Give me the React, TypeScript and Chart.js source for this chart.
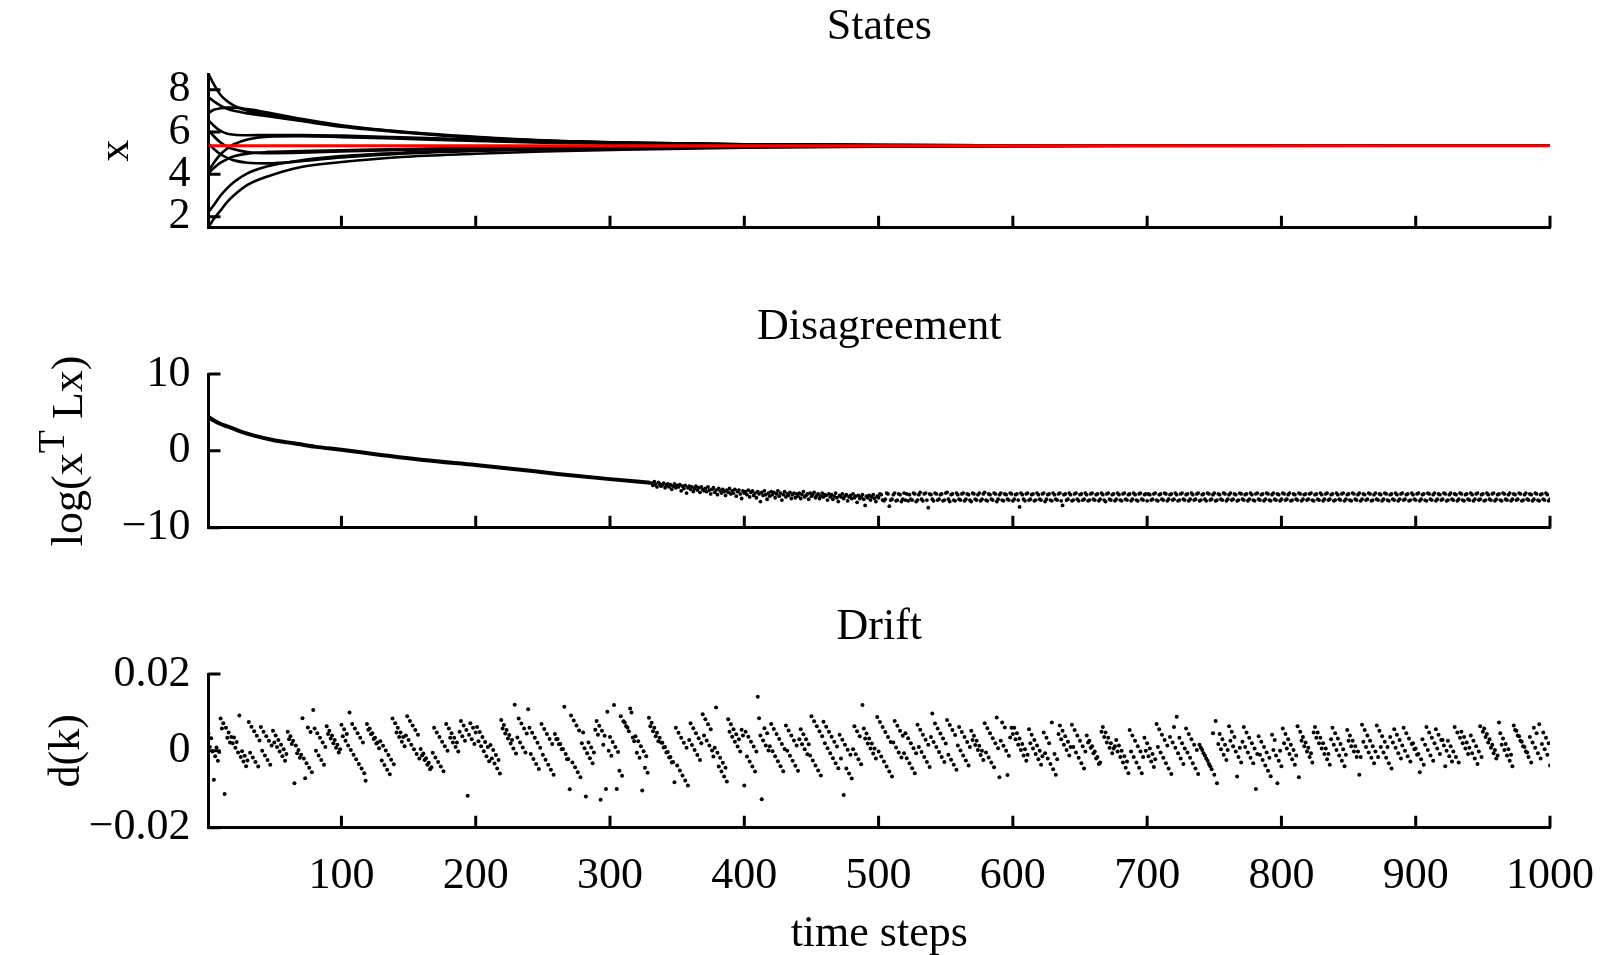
import React, { useEffect, useRef } from "react";
import { Chart, registerables } from "chart.js";

Chart.register(...registerables);

const FONT = "'Liberation Serif', 'Times New Roman', serif";

// ---------- shared x axis ----------
const xTickValues = [100, 200, 300, 400, 500, 600, 700, 800, 900, 1000];
const xTitle = "time steps";

// ---------- States ----------
const stateSteps = [1, 5, 10, 15, 20, 30, 45, 70, 100, 145, 200, 250, 310, 400, 500, 700, 1000];
const stateA = [8.74, 8.25, 7.75, 7.45, 7.25, 7.0, 6.82, 6.55, 6.28, 6.0, 5.75, 5.6, 5.5, 5.42, 5.38, 5.36, 5.35];
const stateB = [7.64, 7.45, 7.25, 7.1, 7.0, 6.88, 6.75, 6.52, 6.25, 5.98, 5.73, 5.59, 5.49, 5.42, 5.38, 5.36, 5.35];
const stateC = [6.9, 7.05, 7.12, 7.15, 7.15, 7.08, 6.92, 6.62, 6.32, 6.02, 5.77, 5.61, 5.5, 5.42, 5.38, 5.36, 5.35];
const stateD = [6.55, 6.3, 6.05, 5.92, 5.87, 5.85, 5.86, 5.86, 5.83, 5.75, 5.64, 5.56, 5.48, 5.42, 5.38, 5.36, 5.35];
const stateE = [6.1, 5.8, 5.5, 5.3, 5.18, 5.05, 5.0, 5.02, 5.08, 5.15, 5.22, 5.27, 5.3, 5.33, 5.34, 5.35, 5.35];
const stateF = [5.45, 5.2, 4.95, 4.78, 4.66, 4.55, 4.52, 4.62, 4.8, 4.98, 5.1, 5.18, 5.25, 5.3, 5.33, 5.35, 5.35];
const stateG = [4.15, 4.55, 4.95, 5.22, 5.42, 5.65, 5.78, 5.8, 5.76, 5.68, 5.58, 5.5, 5.44, 5.39, 5.37, 5.36, 5.35];
const stateH = [4.05, 4.3, 4.55, 4.72, 4.85, 4.98, 5.06, 5.1, 5.14, 5.2, 5.25, 5.28, 5.31, 5.33, 5.34, 5.35, 5.35];
const stateI = [2.23, 2.55, 3.0, 3.35, 3.64, 4.05, 4.38, 4.66, 4.86, 5.02, 5.13, 5.2, 5.26, 5.31, 5.33, 5.35, 5.35];
const stateJ = [1.5, 1.9, 2.3, 2.7, 3.01, 3.5, 3.9, 4.35, 4.58, 4.82, 4.97, 5.08, 5.17, 5.26, 5.31, 5.34, 5.35];
const stateSeries = [stateA, stateB, stateC, stateD, stateE, stateF, stateG, stateH, stateI, stateJ];
const stateMean = 5.35;
const stateYMin = 1.48;
const stateYMax = 8.74;
const stateYTicks = [2, 4, 6, 8];

// ---------- Disagreement ----------
const disagreeTrendSteps = [1, 5, 10, 15, 20, 28, 35, 48, 60, 68, 80, 100, 128, 161, 200, 228, 261, 300, 330];
const disagreeTrendValues = [4.4, 3.95, 3.5, 3.17, 2.85, 2.35, 1.98, 1.45, 1.1, 0.88, 0.55, 0.13, -0.5, -1.2, -1.85, -2.35, -3.0, -3.68, -4.15];
const disagreeNoiseStart = 331;
// log(x^T L x) in tenths, steps 331..1000
const disagreeNoiseTenths = [
  -42,-45,-40,-44,-47,-41,-43,-46,-44,-42,-48,-45,-43,-47,-44,-50,-46,-43,-48,-45,
  -47,-44,-52,-46,-49,-45,-55,-48,-46,-50,-47,-53,-49,-46,-51,-48,-54,-47,-50,-52,
  -49,-53,-47,-51,-56,-50,-48,-54,-51,-57,-49,-52,-55,-50,-53,-58,-51,-54,-49,-56,
  -52,-55,-50,-59,-53,-51,-56,-62,-52,-55,
  -53,-57,-51,-60,-54,-52,-58,-55,-61,-53,-56,-66,-54,-58,-52,-57,-63,-55,-59,-53,
  -57,-54,-61,-56,-52,-59,-55,-64,-57,-53,-60,-56,-58,-54,-62,-57,-55,-61,-56,-59,
  -55,-62,-57,-53,-60,-58,-56,-63,-55,-59,-57,-54,-61,-58,-56,-62,-59,-55,-60,-57,
  -58,-64,-56,-60,-57,-63,-59,-55,-61,-66,-58,-60,-56,-62,-59,-57,-65,-60,-58,-62,
  -56,-61,-59,-67,-58,-62,-60,-57,-63,-71,-59,-61,-58,-64,-60,-57,-62,-66,-59,-61,
  -56,-57,-64,-65,-63,-55,-56,-72,-64,-63,-57,-55,-65,-64,-56,-57,-66,-63,-55,-64,
  -56,-65,-57,-63,-64,-55,-56,-66,-64,-57,-54,-63,-65,-56,-55,-64,-74,-56,-57,-63,
  -65,-55,-56,-64,-63,-57,-56,-65,-64,-55,-54,-63,-66,-57,-56,-64,-65,-55,-57,-63,
  -64,-56,-55,-65,-63,-56,-57,-64,-66,-55,-56,-63,-64,-57,-55,-65,-63,-56,-54,-64,
  -65,-56,-57,-63,-64,-55,-56,-66,-63,-57,-55,-64,-65,-56,-57,-63,-64,-55,-56,-65,
  -63,-57,-56,-64,-73,-55,-57,-63,-65,-56,-55,-64,-63,-57,-56,-65,-64,-55,-57,-63,
  -64,-56,-55,-66,-63,-57,-56,-64,-65,-55,-57,-63,-64,-56,-55,-65,-71,-57,-56,-64,
  -63,-55,-57,-65,-64,-56,-55,-63,-65,-57,-56,-64,-63,-55,-57,-65,-64,-56,-55,-63,
  -64,-57,-56,-65,-63,-55,-57,-64,-66,-56,-55,-63,-64,-57,-56,-65,-63,-55,-57,-64,
  -65,-56,-55,-63,-64,-57,-56,-65,-63,-55,-57,-64,-65,-56,-55,-63,-64,-57,-56,-65,
  -56,-57,-64,-63,-56,-55,-64,-65,-57,-56,-63,-64,-55,-56,-65,-63,-57,-56,-64,-63,
  -55,-57,-65,-64,-56,-55,-63,-64,-57,-56,-65,-63,-55,-57,-64,-63,-56,-55,-65,-64,
  -57,-56,-63,-65,-55,-56,-64,-63,-57,-55,-65,-64,-56,-57,-63,-64,-55,-56,-65,-63,
  -57,-55,-64,-63,-56,-57,-65,-64,-55,-56,-63,-64,-57,-56,-65,-63,-55,-57,-64,-65,
  -56,-55,-63,-64,-57,-56,-65,-63,-55,-56,-64,-65,-57,-55,-63,-64,-56,-57,-65,-63,
  -55,-56,-64,-63,-57,-55,-65,-64,-56,-57,-63,-64,-55,-56,-65,-63,-57,-56,-64,-63,
  -56,-55,-64,-65,-57,-56,-63,-64,-55,-57,-65,-63,-56,-55,-64,-63,-57,-56,-65,-64,
  -55,-57,-63,-64,-56,-55,-65,-63,-57,-56,-64,-65,-55,-56,-63,-64,-57,-55,-65,-63,
  -56,-57,-64,-63,-55,-56,-65,-64,-57,-55,-63,-64,-56,-57,-65,-63,-55,-56,-64,-65,
  -57,-56,-63,-64,-55,-57,-65,-63,-56,-55,-64,-63,-57,-56,-65,-64,-55,-57,-63,-64,
  -56,-55,-65,-63,-57,-56,-64,-65,-55,-56,-63,-64,-57,-55,-65,-63,-56,-57,-64,-63,
  -55,-56,-65,-64,-57,-55,-63,-64,-56,-57,-65,-63,-55,-56,-64,-65,-57,-56,-63,-64,
  -55,-57,-65,-63,-56,-55,-64,-63,-57,-56,-65,-64,-55,-57,-63,-64,-56,-55,-65,-63,
  -57,-56,-64,-65,-55,-56,-63,-64,-57,-55,-65,-63,-56,-57,-64,-63,-55,-56,-65,-64,
  -57,-55,-63,-64,-56,-57,-65,-63,-55,-56,-64,-65,-57,-56,-63,-64,-55,-57,-65,-63,
];
const disagreeYTicks = [-10, 0, 10];

// ---------- Drift ----------
// d(k) x 10^4, steps 1..1000
const driftE4 = [
  45,10,33,-2,-75,-14,9,-26,-3,84,58,72,-112,60,34,48,22,36,20,35,
  8,23,-4,92,-16,-1,-28,-13,-40,-25,75,-5,63,-17,51,-29,39,-41,27,62,
  0,50,-12,38,-24,26,-36,14,52,22,40,10,28,-2,16,-14,4,-26,-8,50,
  30,38,18,26,-84,14,-6,2,-18,-10,85,-20,-71,-32,61,-44,49,-56,106,58,
  0,46,-12,34,-24,22,-36,10,64,44,52,32,40,20,28,8,16,-4,4,68,
  38,56,26,44,14,100,2,70,-10,58,-22,46,-34,34,-46,22,-58,-78,70,55,
  58,43,46,31,34,19,22,7,25,-25,13,-37,1,-49,-11,-61,-23,84,-35,72,
  48,60,36,48,24,36,12,40,90,28,78,16,66,4,54,-8,42,-20,5,-12,
  -7,-24,-19,-36,-31,-48,-43,-5,60,-17,48,-29,36,-41,24,-53,12,70,0,58,
  34,46,22,34,10,22,-2,50,78,38,66,26,54,-117,42,72,30,60,18,48,
  62,25,49,12,36,-1,23,-14,10,-27,15,-20,2,-33,-11,-46,-24,-59,80,58,
  67,45,54,32,41,19,28,6,120,-7,35,84,22,71,9,58,-4,45,108,60,
  -8,47,-21,34,-34,21,-47,8,70,-10,57,-23,44,-36,31,-49,18,-62,44,30,
  31,17,18,4,5,115,-8,-22,-21,-100,92,-30,79,-43,66,-56,53,-69,20,48,
  7,-119,-6,22,-19,9,-32,-4,55,78,42,65,-127,52,16,39,-99,102,0,36,
  -13,23,119,10,-99,-3,-52,90,-65,77,74,64,61,51,110,100,35,25,38,-5,
  25,-18,12,-103,-1,-44,-14,-57,86,64,73,51,60,38,47,25,34,22,21,9,
  10,-4,-3,-17,-16,-30,-29,-82,60,-38,47,-51,34,-64,21,-77,8,-90,28,72,
  15,59,2,46,-11,33,-24,20,95,40,82,27,69,14,56,1,-15,8,113,-5,
  -41,-18,-54,-31,-67,-44,-80,82,50,69,37,56,24,43,11,30,-2,55,40,-90,
  50,-15,37,-28,24,-41,11,-54,-2,141,85,40,-126,27,59,14,46,1,12,70,
  -1,57,-14,44,-27,31,-40,18,-53,5,66,0,53,-13,40,-26,27,-39,14,-52,
  30,56,17,43,4,30,-9,17,-12,90,-25,77,-38,64,-51,51,-64,38,76,20,
  63,7,50,-6,37,-19,24,-32,11,-45,42,-20,29,-115,16,-46,3,-59,-10,-72,
  4,64,-9,51,-22,38,-35,119,58,32,45,19,32,6,19,-7,6,-20,88,-2,
  75,-15,62,-28,49,-41,36,-54,23,-67,22,78,9,65,-4,52,-17,39,-6,46,
  -19,33,-32,20,-45,7,-58,-6,68,10,55,-3,42,-16,29,-29,16,-42,36,97,
  23,71,10,58,-3,45,-16,32,-29,19,80,-10,67,-23,54,-36,41,-49,14,62,
  1,49,-12,36,-25,23,-38,10,52,28,39,15,26,2,13,-11,0,-24,72,-4,
  59,-17,46,-30,33,-43,20,87,7,-69,26,74,13,61,0,-63,-13,35,60,44,
  60,30,46,16,32,2,18,-12,4,-26,-10,56,20,42,6,28,-8,14,-22,0,
  -36,-14,48,-6,34,-20,20,-34,74,-48,-8,-62,-22,44,66,30,52,16,38,2,
  24,-12,10,68,10,54,-4,40,-18,26,-32,12,-46,-2,40,22,26,8,12,-6,
  -2,-20,-16,-34,-30,50,62,36,48,22,34,8,20,-6,6,12,28,-2,14,-16,
  0,-30,-14,-44,-28,-58,54,-2,40,-16,26,-30,12,-44,-2,-58,-16,34,0,20,
  -14,6,-28,-8,-42,-22,70,10,56,-4,42,-18,28,-32,14,-46,36,-60,22,62,
  8,89,-6,34,-20,20,-34,6,58,-4,44,-18,30,-32,16,-46,2,-60,16,8,
  2,-6,-12,-20,-26,-34,-40,-48,46,-62,78,-84,18,44,4,30,-10,16,-24,2,
  64,26,50,12,36,-2,-67,-16,8,-30,24,62,10,48,-4,34,-18,20,-32,6,
  -99,-8,38,-10,24,-24,10,-38,-4,-52,-18,-66,42,2,28,-12,-84,-26,0,-40,
  58,20,44,6,30,-8,16,-22,2,-36,-12,64,-69,50,26,36,12,22,-2,8,
  -16,-6,-30,48,62,34,48,20,34,6,20,-8,6,-22,-8,-36,30,60,16,46,
  2,32,-12,18,-26,4,-40,-10,54,26,40,12,26,-2,12,-16,-2,-62,-16,68,
  24,54,10,40,-4,26,-18,12,-32,-2,66,-16,52,10,38,-4,24,-18,10,-32,
  36,-46,22,56,8,42,-6,28,-20,14,60,0,46,-14,32,-28,18,20,4,6,
  -10,-8,-56,-22,30,-36,16,62,2,48,-12,34,-26,20,56,6,42,-8,28,28,
  14,-40,0,26,-14,12,-28,-2,62,-16,48,-30,34,50,20,36,6,22,-8,8,
  40,-6,26,-20,12,-34,-2,64,-16,50,58,36,44,22,30,8,16,-6,2,-20,
  -12,74,46,16,32,2,18,-12,4,-26,-10,-40,66,54,52,40,38,26,24,12,
  10,-2,-4,-16,36,-30,22,60,8,46,-6,69,-20,18,48,4,34,-10,20,-38,
];
const driftYTicks = [-0.02, 0, 0.02];

// ---------- helpers ----------
const pts = (xs: number[], ys: number[]) => xs.map((x, i) => ({ x, y: ys[i] }));
const minus = "\u2212";

const inwardTicks = {
  id: "inwardTicks",
  afterDatasetsDraw(chart: any) {
    const { ctx, chartArea: a, scales } = chart;
    ctx.save();
    ctx.strokeStyle = "#000";
    ctx.lineWidth = 3;
    ctx.beginPath();
    scales.x.ticks.forEach((t: any) => {
      const px = scales.x.getPixelForValue(t.value);
      ctx.moveTo(px, a.bottom);
      ctx.lineTo(px, a.bottom - 12);
    });
    scales.y.ticks.forEach((t: any) => {
      const py = scales.y.getPixelForValue(t.value);
      ctx.moveTo(a.left, py);
      ctx.lineTo(a.left + 12, py);
    });
    ctx.stroke();
    ctx.restore();
  },
};

const yTitlePlugin = {
  id: "yTitle",
  afterDraw(chart: any, _args: any, opts: any) {
    const parts = opts && opts.parts;
    if (!parts) return;
    const { ctx, chartArea: a } = chart;
    const mainFont = `44px ${FONT}`;
    const supFont = `38px ${FONT}`;
    ctx.save();
    let total = 0;
    const widths = parts.map((p: any) => {
      ctx.font = p.sup ? supFont : mainFont;
      const w = ctx.measureText(p.text).width;
      total += w;
      return w;
    });
    ctx.translate(a.left - opts.offset, (a.top + a.bottom) / 2);
    ctx.rotate(-Math.PI / 2);
    ctx.textBaseline = "alphabetic";
    ctx.textAlign = "left";
    ctx.fillStyle = "#000";
    let x = -total / 2;
    parts.forEach((p: any, i: number) => {
      ctx.font = p.sup ? supFont : mainFont;
      ctx.fillText(p.text, x, p.sup ? -18 : 0);
      x += widths[i];
    });
    ctx.restore();
  },
};

function panelConfig(o: any): any {
  return {
    type: "line",
    data: { datasets: o.datasets },
    plugins: [inwardTicks, yTitlePlugin],
    options: {
      responsive: false,
      animation: false,
      devicePixelRatio: 1,
      events: [],
      layout: { padding: { left: 0, right: 53, top: 0, bottom: o.bottomAxis ? 0 : 72.3 } },
      plugins: {
        legend: { display: false },
        tooltip: { enabled: false },
        title: {
          display: true,
          fullSize: false,
          text: o.title,
          color: "#000",
          font: { family: FONT, size: 44, weight: "normal" },
          padding: { top: 1.5, bottom: 19.7 },
        },
        yTitle: { parts: o.yTitleParts, offset: o.yTitleOffset },
      },
      scales: {
        x: {
          type: "linear",
          position: "bottom",
          min: 1,
          max: 1000,
          grid: { display: false, drawTicks: false, tickLength: 0 },
          border: { display: true, color: "#000", width: 3 },
          afterBuildTicks: (s: any) => {
            s.ticks = xTickValues.map((v) => ({ value: v }));
          },
          afterFit: (s: any) => {
            s.height = o.bottomAxis ? 133.3 : 0;
          },
          ticks: {
            display: !!o.bottomAxis,
            autoSkip: false,
            maxRotation: 0,
            minRotation: 0,
            padding: 6,
            color: "#000",
            font: { family: FONT, size: 44, lineHeight: 1.92 },
            callback: (v: any) => String(v),
          },
          title: {
            display: !!o.bottomAxis,
            text: xTitle,
            color: "#000",
            font: { family: FONT, size: 44 },
            padding: { top: 0, bottom: 0 },
          },
        },
        y: {
          type: "linear",
          position: "left",
          min: o.yMin,
          max: o.yMax,
          grid: { display: false, drawTicks: false, tickLength: 0 },
          border: { display: true, color: "#000", width: 3 },
          afterBuildTicks: (s: any) => {
            s.ticks = o.yTicks.map((v: number) => ({ value: v }));
          },
          afterFit: (s: any) => {
            s.width = 208.5;
          },
          ticks: {
            autoSkip: false,
            padding: 18,
            color: "#000",
            font: { family: FONT, size: 44 },
            callback: o.yFmt,
          },
        },
      },
    },
  };
}

export default function App() {
  const r1 = useRef<HTMLCanvasElement>(null);
  const r2 = useRef<HTMLCanvasElement>(null);
  const r3 = useRef<HTMLCanvasElement>(null);

  useEffect(() => {
    const stateDatasets: any[] = [
      {
        data: [{ x: 1, y: stateMean }, { x: 1000, y: stateMean }],
        borderColor: "rgb(255,0,0)",
        borderWidth: 3,
        pointRadius: 0,
      },
      ...stateSeries.map((s) => ({
        data: pts(stateSteps, s),
        borderColor: "#000",
        borderWidth: 2.6,
        pointRadius: 0,
        cubicInterpolationMode: "monotone",
      })),
    ];

    const noiseData = disagreeNoiseTenths.map((v, i) => ({ x: disagreeNoiseStart + i, y: v / 10 }));
    const disagreeDatasets: any[] = [
      {
        data: pts(disagreeTrendSteps, disagreeTrendValues),
        borderColor: "#000",
        borderWidth: 4,
        pointRadius: 0,
        cubicInterpolationMode: "monotone",
      },
      {
        data: noiseData,
        showLine: false,
        pointRadius: 1.9,
        pointBorderWidth: 0,
        pointBackgroundColor: "#000",
        borderColor: "#000",
      },
    ];

    const driftData = driftE4.map((v, i) => ({ x: i + 1, y: v / 10000 }));
    const driftDatasets: any[] = [
      {
        data: driftData,
        showLine: false,
        pointRadius: 2,
        pointBorderWidth: 0,
        pointBackgroundColor: "#000",
        borderColor: "#000",
      },
    ];

    const charts = [
      new Chart(
        r1.current as HTMLCanvasElement,
        panelConfig({
          title: "States",
          datasets: stateDatasets,
          yMin: stateYMin,
          yMax: stateYMax,
          yTicks: stateYTicks,
          yFmt: (v: any) => String(v),
          yTitleParts: [{ text: "x" }],
          yTitleOffset: 80.5,
          bottomAxis: false,
        })
      ),
      new Chart(
        r2.current as HTMLCanvasElement,
        panelConfig({
          title: "Disagreement",
          datasets: disagreeDatasets,
          yMin: -10,
          yMax: 10,
          yTicks: disagreeYTicks,
          yFmt: (v: any) => (v < 0 ? minus + Math.abs(v) : String(v)),
          yTitleParts: [{ text: "log(x" }, { text: "T", sup: true }, { text: " Lx)" }],
          yTitleOffset: 127,
          bottomAxis: false,
        })
      ),
      new Chart(
        r3.current as HTMLCanvasElement,
        panelConfig({
          title: "Drift",
          datasets: driftDatasets,
          yMin: -0.02,
          yMax: 0.02,
          yTicks: driftYTicks,
          yFmt: (v: any) => (v === 0 ? "0" : (v < 0 ? minus : "") + Math.abs(v).toFixed(2)),
          yTitleParts: [{ text: "d(k)" }],
          yTitleOffset: 130,
          bottomAxis: true,
        })
      ),
    ];
    return () => charts.forEach((c) => c.destroy());
  }, []);

  const canvasStyle = (top: number, h: number): React.CSSProperties => ({
    position: "absolute",
    left: 0,
    top,
    width: 1603,
    height: h,
    display: "block",
  });

  return (
    <div
      style={{
        position: "fixed",
        left: 0,
        top: 0,
        width: 1603,
        height: 955,
        overflow: "hidden",
        background: "#fff",
      }}
    >
      <canvas ref={r1} width={1603} height={300} style={canvasStyle(0, 300)} />
      <canvas ref={r2} width={1603} height={300} style={canvasStyle(300, 300)} />
      <canvas ref={r3} width={1603} height={361} style={canvasStyle(600, 361)} />
    </div>
  );
}
